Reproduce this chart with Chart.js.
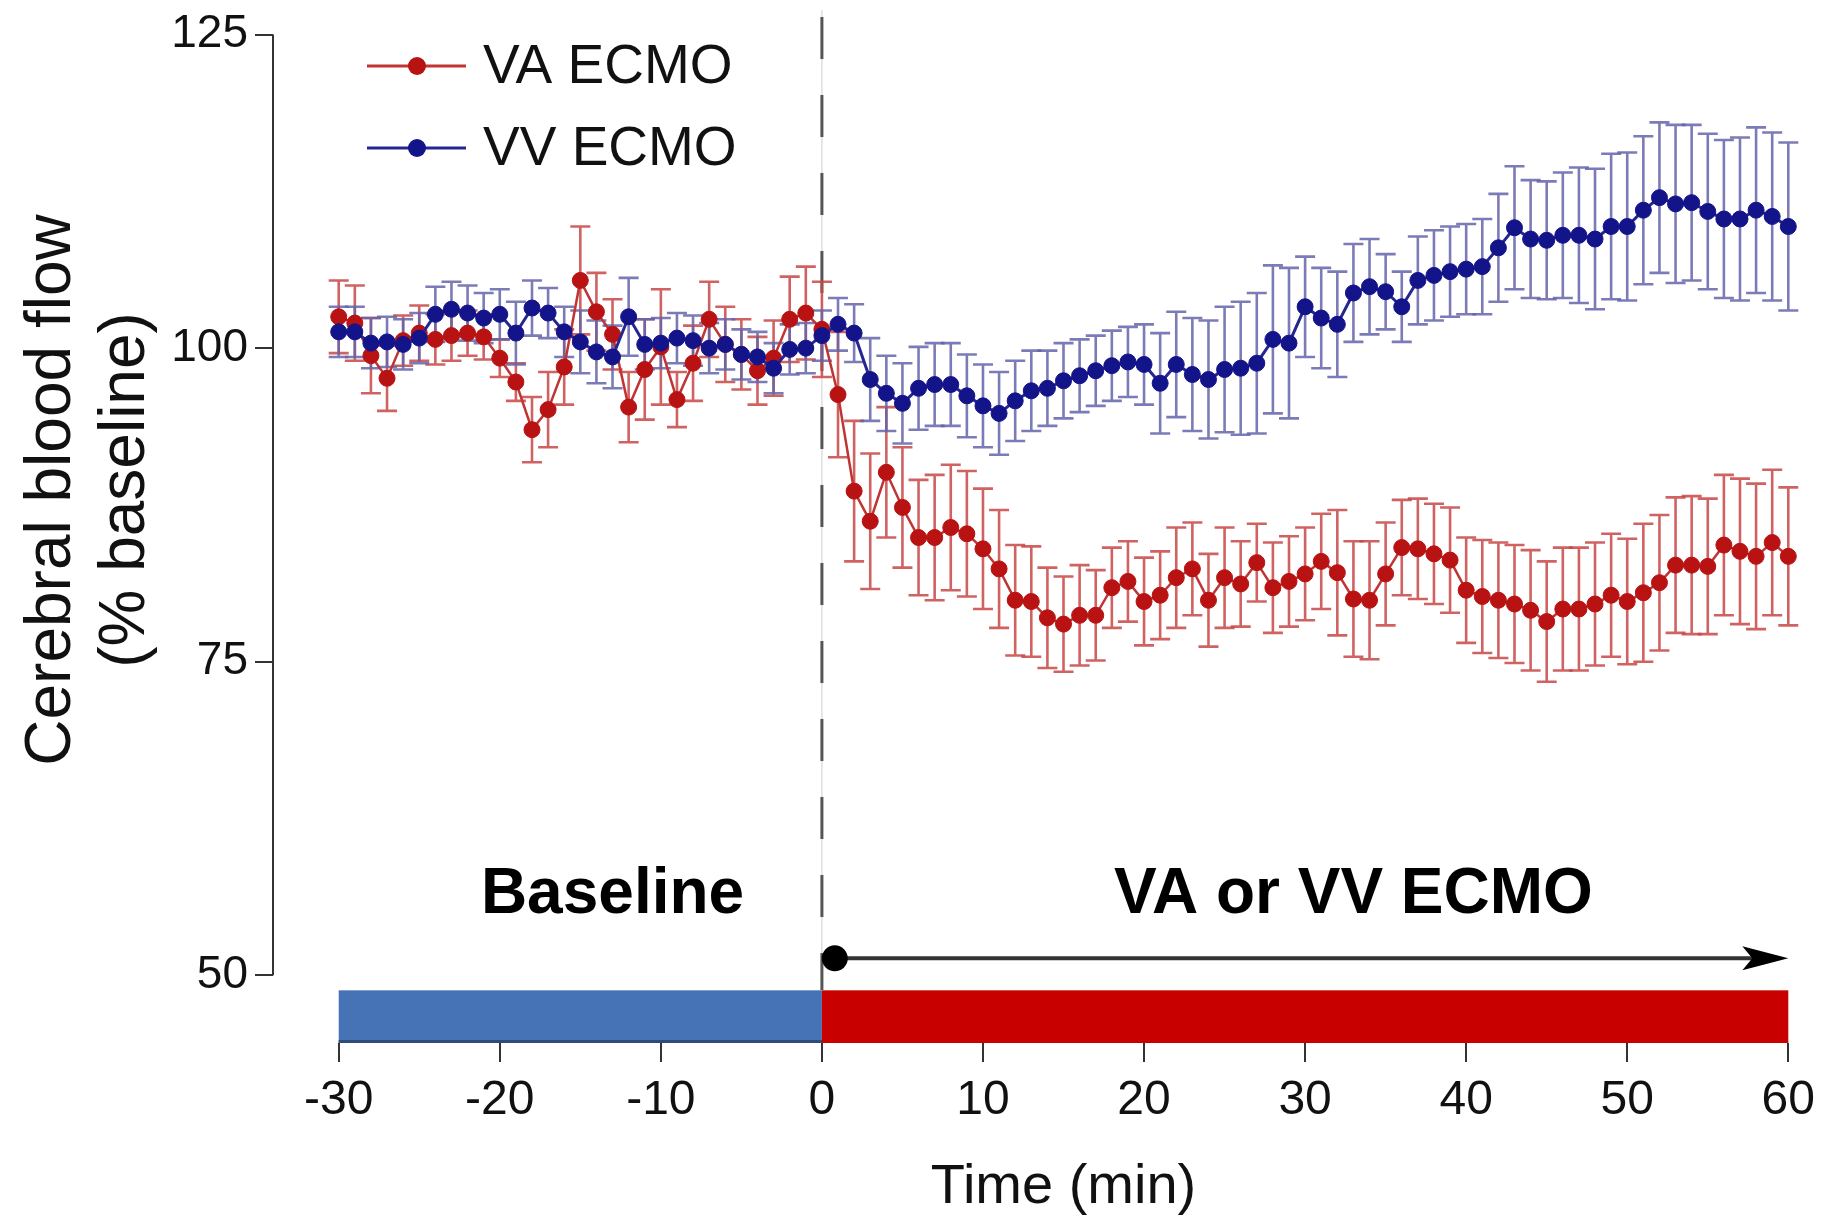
<!DOCTYPE html>
<html>
<head>
<meta charset="utf-8">
<script src="https://cdn.jsdelivr.net/npm/chart.js@4.4.1/dist/chart.umd.min.js"></script>
<style>
html,body{margin:0;padding:0;background:#fff;}
#wrap{width:1825px;height:1216px;position:relative;}
</style>
</head>
<body>
<div id="wrap"><canvas id="c" width="1825" height="1216"></canvas></div>
<script>
// ---------- DATA ----------
const times = [-30,-29,-28,-27,-26,-25,-24,-23,-22,-21,-20,-19,-18,-17,-16,-15,-14,-13,-12,-11,-10,-9,-8,-7,-6,-5,-4,-3,-2,-1,
  0,1,2,3,4,5,6,7,8,9,10,11,12,13,14,15,16,17,18,19,20,21,22,23,24,25,26,27,28,29,30,
  31,32,33,34,35,36,37,38,39,40,41,42,43,44,45,46,47,48,49,50,51,52,53,54,55,56,57,58,59,60];

const vaMean = [102.5,102.0,99.4,97.6,100.6,101.2,100.7,101.0,101.2,100.9,99.2,97.3,93.5,95.1,98.5,105.4,102.9,101.1,95.3,98.3,100.1,95.9,98.8,102.3,100.3,99.5,98.2,99.2,102.3,102.8,
  101.5,96.3,88.6,86.2,90.1,87.3,84.9,84.9,85.7,85.2,84.0,82.4,79.9,79.8,78.5,78.0,78.7,78.7,80.9,81.4,79.8,
  80.3,81.7,82.4,79.9,81.7,81.2,82.9,80.9,81.4,82.0,83.0,82.1,80.0,79.9,82.0,84.1,84.0,83.6,83.1,80.7,
  80.2,79.9,79.6,79.1,78.2,79.2,79.2,79.6,80.3,79.8,80.5,81.3,82.7,82.7,82.6,84.3,83.8,83.4,84.5,83.4];

const vaSem = [2.9,3.0,3.0,2.6,2.0,2.2,2.0,2.0,1.8,1.8,1.5,1.5,2.6,3.0,3.0,4.3,3.1,2.8,2.8,4.0,4.6,2.2,3.0,3.0,3.0,2.8,2.7,3.0,3.4,3.7,
  3.8,5.0,5.6,5.4,5.2,4.8,4.6,5.0,5.0,5.0,4.8,4.7,4.4,4.4,4.0,3.8,4.0,3.6,3.2,3.2,3.5,
  3.5,4.0,3.7,3.7,4.0,3.4,3.1,3.6,3.6,3.7,3.8,5.0,4.6,4.7,4.1,3.8,4.0,4.0,4.2,4.2,
  4.5,4.6,4.7,4.8,4.8,4.9,4.9,4.9,4.9,5.0,5.5,5.4,5.4,5.5,5.4,5.6,5.8,5.8,5.8,5.5];

const vvMean = [101.3,101.3,100.4,100.5,100.3,100.8,102.7,103.1,102.8,102.4,102.7,101.2,103.2,102.8,101.3,100.5,99.7,99.3,102.5,100.3,100.4,100.8,100.6,100.0,100.3,99.5,99.3,98.4,99.9,100.0,
  101.0,101.9,101.2,97.5,96.4,95.6,96.8,97.1,97.1,96.2,95.4,94.8,95.8,96.6,96.8,97.4,97.8,98.2,98.6,98.9,98.7,
  97.2,98.7,97.9,97.5,98.3,98.4,98.8,100.7,100.4,103.3,102.4,101.9,104.4,104.9,104.5,103.3,105.4,105.8,106.1,106.3,
  106.5,108.0,109.6,108.7,108.6,109.0,109.0,108.7,109.7,109.7,111.0,112.0,111.5,111.6,110.9,110.3,110.3,111.0,110.5,109.7];

const vvSem = [2.0,2.0,2.0,2.0,2.0,2.0,2.2,2.2,2.2,2.0,2.0,2.5,2.2,2.0,2.0,2.5,2.5,2.5,3.1,2.0,2.0,2.0,2.0,2.0,2.0,2.0,2.0,2.0,2.0,2.0,
  2.0,2.1,2.3,3.3,3.0,3.2,3.3,3.3,3.3,3.3,3.3,3.3,3.2,3.2,3.0,3.0,2.9,2.8,2.8,2.8,3.2,
  4.0,4.2,4.5,4.7,5.0,5.3,5.6,5.9,6.0,4.0,4.0,4.2,3.9,3.8,3.0,2.8,3.5,3.6,3.6,3.6,
  3.8,4.3,4.9,4.7,4.7,5.0,5.4,5.6,5.8,5.9,5.9,6.0,6.3,6.2,6.2,6.3,6.5,6.6,6.7,6.7];

const seriesLabels = ['VA ECMO', 'VV ECMO'];
const xTicks = [-30,-20,-10,0,10,20,30,40,50,60];
const yTicks = [50,75,100,125];
const phaseLabels = ['Baseline', 'VA or VV ECMO'];
const phaseRanges = [[-30, 0], [0, 60]];
const xTitle = 'Time (min)';
const yTitle = ['Cerebral blood flow', '(% baseline)'];

// ---------- STYLE ----------
const FONT = "'Liberation Sans', Arial, sans-serif";
const RED = '#b81212', RED_LINE = '#c03434', RED_ERR = 'rgba(200,70,70,0.85)';
const BLUE = '#14148a', BLUE_LINE = '#262690', BLUE_ERR = 'rgba(100,100,170,0.85)';
const BAR_BLUE = '#4672b6', BAR_RED = '#c80000';

const errs = [vaSem, vvSem];

const decor = {
  id: 'decor',
  beforeDatasetsDraw(chart) {
    const {ctx, scales: {x, y}} = chart;
    ctx.save();
    // y axis line (50..125)
    ctx.strokeStyle = '#333'; ctx.lineWidth = 2;
    ctx.beginPath();
    ctx.moveTo(chart.chartArea.left, y.getPixelForValue(125));
    ctx.lineTo(chart.chartArea.left, y.getPixelForValue(50));
    ctx.stroke();

    // phase bars
    const yb0 = y.getPixelForValue(48.8), yb1 = y.getPixelForValue(44.6);
    ctx.fillStyle = BAR_BLUE;
    ctx.fillRect(x.getPixelForValue(phaseRanges[0][0]), yb0, x.getPixelForValue(phaseRanges[0][1]) - x.getPixelForValue(phaseRanges[0][0]), yb1 - yb0);
    ctx.fillStyle = '#2f4c78';
    ctx.fillRect(x.getPixelForValue(phaseRanges[0][0]), yb1 - 3, x.getPixelForValue(phaseRanges[0][1]) - x.getPixelForValue(phaseRanges[0][0]), 3);
    ctx.fillStyle = BAR_RED;
    ctx.fillRect(x.getPixelForValue(phaseRanges[1][0]), yb0, x.getPixelForValue(phaseRanges[1][1]) - x.getPixelForValue(phaseRanges[1][0]), yb1 - yb0);

    // dashed vertical line at 0
    const x0 = x.getPixelForValue(0);
    ctx.strokeStyle = '#cfcfcf'; ctx.lineWidth = 1;
    ctx.beginPath(); ctx.moveTo(x0, 10); ctx.lineTo(x0, yb0); ctx.stroke();
    ctx.strokeStyle = '#555'; ctx.lineWidth = 3; ctx.setLineDash([42, 36]); ctx.lineDashOffset = -17;
    ctx.beginPath(); ctx.moveTo(x0, 0); ctx.lineTo(x0, yb0); ctx.stroke();
    ctx.setLineDash([]);

    // arrow
    const ya = y.getPixelForValue(51.35);
    const xs = x.getPixelForValue(0.8), xe = x.getPixelForValue(60);
    ctx.strokeStyle = '#333'; ctx.lineWidth = 4;
    ctx.beginPath(); ctx.moveTo(xs, ya); ctx.lineTo(xe - 30, ya); ctx.stroke();
    ctx.fillStyle = '#000';
    ctx.beginPath(); ctx.arc(xs, ya, 13, 0, Math.PI * 2); ctx.fill();
    ctx.beginPath(); ctx.moveTo(xe, ya); ctx.lineTo(xe - 46, ya - 12); ctx.lineTo(xe - 36, ya); ctx.lineTo(xe - 46, ya + 12); ctx.closePath(); ctx.fill();

    // phase labels
    ctx.fillStyle = '#000';
    ctx.font = 'bold 64px ' + FONT;
    ctx.textAlign = 'center'; ctx.textBaseline = 'middle';
    ctx.fillText(phaseLabels[0], x.getPixelForValue(-13), y.getPixelForValue(56.4));
    ctx.fillText(phaseLabels[1], x.getPixelForValue(33), y.getPixelForValue(56.4));

    // error bars
    chart.data.datasets.forEach((ds, di) => {
      ctx.strokeStyle = di === 0 ? RED_ERR : BLUE_ERR;
      ctx.lineWidth = 2.6;
      ds.data.forEach((p, i) => {
        const px = x.getPixelForValue(p.x);
        const yt = y.getPixelForValue(p.y + errs[di][i]);
        const yb = y.getPixelForValue(p.y - errs[di][i]);
        ctx.beginPath();
        ctx.moveTo(px, yt); ctx.lineTo(px, yb);
        ctx.moveTo(px - 10, yt); ctx.lineTo(px + 10, yt);
        ctx.moveTo(px - 10, yb); ctx.lineTo(px + 10, yb);
        ctx.stroke();
      });
    });
    ctx.restore();
  },
  afterDraw(chart) {
    const {ctx, scales: {x, y}} = chart;
    ctx.save();
    // legend
    const rows = [{label: seriesLabels[0], line: RED_LINE, dot: RED, y: 66}, {label: seriesLabels[1], line: BLUE_LINE, dot: BLUE, y: 148}];
    rows.forEach(r => {
      ctx.strokeStyle = r.line; ctx.lineWidth = 3;
      ctx.beginPath(); ctx.moveTo(367, r.y); ctx.lineTo(466, r.y); ctx.stroke();
      ctx.fillStyle = r.dot;
      ctx.beginPath(); ctx.arc(417, r.y, 9, 0, Math.PI * 2); ctx.fill();
      ctx.fillStyle = '#111';
      ctx.font = '55px ' + FONT;
      ctx.textAlign = 'left'; ctx.textBaseline = 'middle';
      ctx.fillText(r.label, 483, r.y + 2);
    });
    // axis titles
    ctx.fillStyle = '#111';
    ctx.font = '56px ' + FONT;
    ctx.textAlign = 'center'; ctx.textBaseline = 'alphabetic';
    ctx.fillText(xTitle, (x.getPixelForValue(-30) + x.getPixelForValue(60)) / 2, 1203);
    ctx.translate(0, 490);
    ctx.rotate(-Math.PI / 2);
    ctx.font = '64px ' + FONT;
    ctx.textBaseline = 'middle';
    ctx.fillText(yTitle[0], 0, 52);
    ctx.fillText(yTitle[1], 0, 126);
    ctx.restore();
  }
};

const mk = (arr) => times.map((t, i) => ({x: t, y: arr[i]}));

new Chart(document.getElementById('c'), {
  type: 'line',
  data: {
    datasets: [
      {label: seriesLabels[0], data: mk(vaMean), borderColor: RED_LINE, backgroundColor: RED,
       pointBackgroundColor: RED, pointBorderColor: RED, pointRadius: 8, pointBorderWidth: 1,
       borderWidth: 2.5, order: 1, clip: false, tension: 0},
      {label: seriesLabels[1], data: mk(vvMean), borderColor: BLUE_LINE, backgroundColor: BLUE,
       pointBackgroundColor: BLUE, pointBorderColor: BLUE, pointRadius: 8, pointBorderWidth: 1,
       borderWidth: 3, order: 0, clip: false, tension: 0}
    ]
  },
  options: {
    responsive: false, animation: false, devicePixelRatio: 1,
    layout: {padding: {left: 0, right: 31.5, top: 31, bottom: 0}},
    plugins: {legend: {display: false}, tooltip: {enabled: false}},
    events: [],
    scales: {
      x: {
        type: 'linear', min: -34.08, max: 60,
        afterBuildTicks: s => { s.ticks = xTicks.map(v => ({value: v})); },
        afterFit: s => { s.height = 173; },
        grid: {drawOnChartArea: false, drawTicks: true, tickLength: 19, color: '#333', lineWidth: 2},
        border: {display: false},
        ticks: {font: {family: FONT, size: 48}, color: '#111', padding: 10, maxRotation: 0, autoSkip: false}
      },
      y: {
        type: 'linear', min: 44.6, max: 125,
        afterBuildTicks: s => { s.ticks = yTicks.map(v => ({value: v})); },
        afterFit: s => { s.width = 273; },
        grid: {drawOnChartArea: false, drawTicks: true, tickLength: 18, color: '#333', lineWidth: 2},
        border: {display: false},
        ticks: {font: {family: FONT, size: 46}, color: '#111', padding: 7}
      }
    }
  },
  plugins: [decor]
});
</script>
</body>
</html>
